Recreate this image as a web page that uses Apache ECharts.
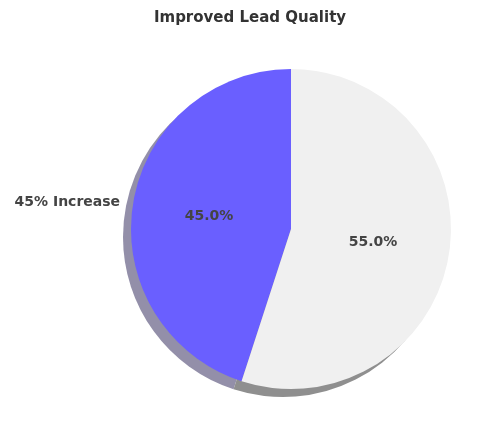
<!DOCTYPE html>
<html>
<head>
<meta charset="UTF-8">
<script src="https://cdn.jsdelivr.net/npm/echarts@6/dist/echarts.min.js"></script>
<style>html,body{margin:0;padding:0;background:#fff}#main{width:500px;height:438px}</style>
</head>
<body>
<div id="main"></div>
<script>
var labels = ['45% Increase', ''];
var values = [45, 55];
var colors = ['#6a5fff', '#f0f0f0'];
var shadowColors = ['#938fa9', '#8f8f8f'];

var font = 'DejaVu Sans';
var chart = echarts.init(document.getElementById('main'));
var base = {
    type: 'pie', radius: 160, startAngle: 90, clockwise: false,
    center: [291, 229], animation: false
};
chart.setOption({
    title: {
        text: 'Improved Lead Quality', left: 'center', top: 6,
        textStyle: {fontFamily: font, fontSize: 15, fontWeight: 'bold', color: '#333'}
    },
    series: [
        Object.assign({}, base, {
            center: [283, 237], silent: true,
            label: {show: false}, labelLine: {show: false},
            data: values.map(function (v, i) { return {value: v, itemStyle: {color: shadowColors[i]}}; })
        }),
        Object.assign({}, base, {
            label: {
                position: 'inside', formatter: function (p) { return p.value.toFixed(1) + '%'; },
                fontFamily: font, fontSize: 14, fontWeight: 'bold', color: '#444'
            },
            data: values.map(function (v, i) { return {value: v, name: labels[i], itemStyle: {color: colors[i]}}; })
        }),
        Object.assign({}, base, {
            silent: true, itemStyle: {color: 'rgba(0,0,0,0)'},
            label: {
                position: 'outside', formatter: '{b}',
                fontFamily: font, fontSize: 14, fontWeight: 'bold', color: '#444'
            },
            labelLine: {show: false, length: 8, length2: 0},
            data: values.map(function (v, i) { return {value: v, name: labels[i]}; })
        })
    ]
});
</script>
</body>
</html>
